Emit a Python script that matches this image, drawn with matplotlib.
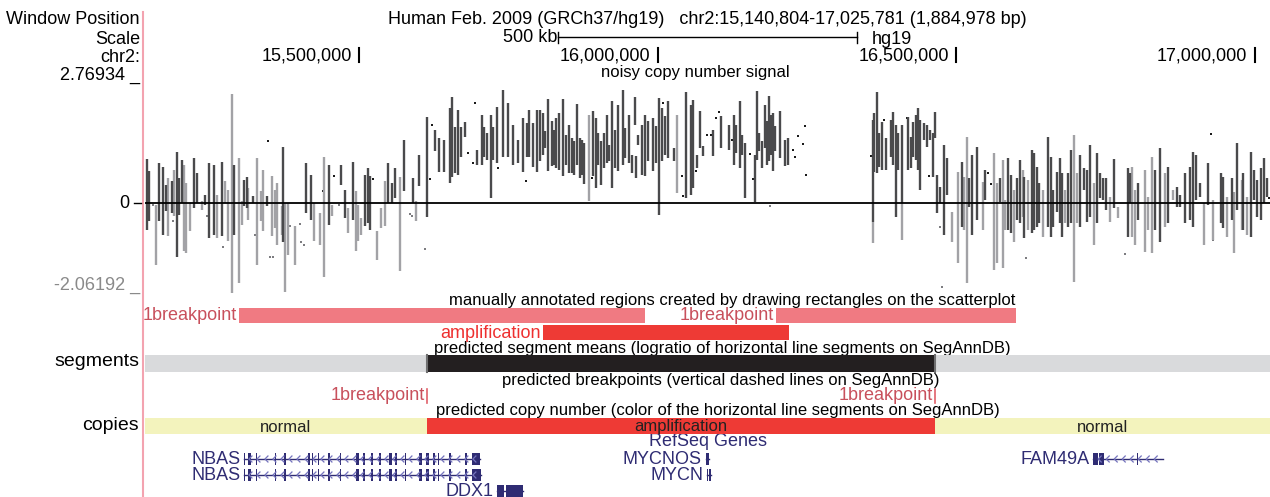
import numpy as np
import matplotlib
matplotlib.use("Agg")
import matplotlib.pyplot as plt
from matplotlib.patches import Rectangle

plt.rcParams['font.family'] = ['Liberation Sans', 'DejaVu Sans']

# 1. Okno genomu (Mb)
chrom = "chr2"
win_start = 15.140804
win_end = 17.025781
ruler_ticks = [15.5, 16.0, 16.5, 17.0]
sig_top = 2.76934
sig_bottom = -2.06192

# 2. Sygnal: przedzialy min-max w oknach (ciemne i jasne)
dark_mb = [15.144, 15.148, 15.164, 15.171, 15.176, 15.186, 15.194, 15.198, 15.203, 15.223,
           15.228, 15.241, 15.248, 15.256, 15.270, 15.290, 15.307, 15.312, 15.322, 15.345,
           15.372, 15.411, 15.419, 15.449, 15.469, 15.476, 15.489, 15.509, 15.515, 15.518,
           15.548, 15.555, 15.560, 15.575, 15.590, 15.600, 15.613, 15.627, 15.633, 15.642,
           15.652, 15.655, 15.660, 15.665, 15.670, 15.677, 15.697, 15.706, 15.709, 15.714,
           15.721, 15.724, 15.731, 15.741, 15.749, 15.757, 15.766, 15.774, 15.781, 15.784,
           15.791, 15.798, 15.803, 15.808, 15.811, 15.816, 15.823, 15.826, 15.829, 15.834,
           15.841, 15.846, 15.851, 15.856, 15.860, 15.865, 15.870, 15.873, 15.876, 15.892,
           15.897, 15.900, 15.905, 15.910, 15.915, 15.918, 15.923, 15.928, 15.933, 15.942,
           15.945, 15.952, 15.957, 15.962, 15.964, 15.967, 15.974, 15.979, 15.984, 15.992,
           15.997, 16.002, 16.007, 16.012, 16.017, 16.027, 16.047, 16.056, 16.059, 16.066,
           16.071, 16.076, 16.093, 16.106, 16.119, 16.128, 16.131, 16.138, 16.141, 16.146,
           16.163, 16.166, 16.170, 16.175, 16.180, 16.183, 16.186, 16.190, 16.193, 16.196,
           16.205, 16.213, 16.218, 16.361, 16.362, 16.367, 16.371, 16.376, 16.382, 16.391,
           16.394, 16.399, 16.402, 16.409, 16.419, 16.424, 16.428, 16.433, 16.436, 16.439,
           16.446, 16.451, 16.456, 16.461, 16.464, 16.468, 16.473, 16.480, 16.485, 16.510,
           16.521, 16.526, 16.535, 16.548, 16.573, 16.587, 16.592, 16.602, 16.607, 16.614,
           16.627, 16.630, 16.635, 16.639, 16.654, 16.659, 16.662, 16.669, 16.674, 16.677,
           16.687, 16.692, 16.707, 16.714, 16.719, 16.724, 16.736, 16.741, 16.746, 16.751,
           16.764, 16.788, 16.791, 16.805, 16.833, 16.841, 16.855, 16.870, 16.875, 16.883,
           16.892, 16.897, 16.902, 16.908, 16.922, 16.944, 16.947, 16.962, 16.971, 16.980,
           16.994, 16.999, 17.004, 17.011, 17.016, 17.021]
dark_hi = [1.01, 0.73, 0.92, 0.82, 0.41, 0.50, 1.17, 0.57, 0.98, 1.03,
           0.69, 0.18, 0.92, 0.87, 0.94, 0.87, 0.53, 0.59, 0.16, 0.16,
           1.28, 0.92, 0.64, 0.87, 0.87, 0.30, 0.94, 0.64, 0.80, 0.62,
           0.92, 0.46, 0.80, 1.44, 0.57, 1.10, 1.97, 1.67, 1.49, 1.44,
           2.17, 2.43, 1.74, 2.13, 1.74, 1.85, 1.21, 2.01, 1.74, 1.60,
           2.01, 1.74, 2.20, 2.59, 2.29, 1.78, 1.44, 1.94, 1.83, 2.13,
           1.83, 2.13, 2.13, 2.06, 1.65, 2.38, 1.88, 1.67, 1.94, 2.06,
           2.38, 1.56, 1.78, 1.49, 1.42, 2.27, 1.49, 1.44, 1.37, 2.10,
           1.94, 1.60, 1.42, 1.60, 2.01, 1.33, 2.33, 1.67, 2.24, 2.59,
           1.72, 2.01, 1.10, 2.43, 1.08, 1.56, 1.78, 2.01, 1.88, 1.94,
           1.76, 2.40, 2.17, 1.99, 2.33, 1.26, 2.54, 2.24, 2.36, 1.10,
           2.10, 1.30, 1.67, 1.99, 1.78, 2.01, 1.78, 2.33, 1.56, 1.37,
           1.10, 2.56, 1.60, 1.42, 2.24, 1.88, 2.45, 2.01, 2.06, 1.76,
           2.10, 1.44, 1.49, 1.90, 2.06, 2.54, 1.60, 1.85, 1.49, 1.90,
           2.08, 1.78, 1.60, 1.78, 1.97, 1.51, 1.85, 2.01, 2.17, 1.90,
           1.83, 1.78, 1.67, 1.60, 2.08, 0.64, 0.37, 1.33, 1.03, 0.94,
           0.57, 1.10, 1.28, 0.76, 0.57, 1.03, 0.64, 0.57, 0.98, 0.59,
           1.21, 1.14, 0.82, 0.46, 1.51, 1.05, 0.30, 0.71, 1.03, 0.69,
           0.69, 1.21, 1.10, 0.80, 0.76, 1.33, 1.14, 0.69, 0.57, 0.57,
           1.01, 0.80, 0.69, 0.46, 0.76, 1.26, 0.82, 0.37, 0.18, 0.69,
           0.82, 1.17, 1.10, 0.46, 0.92, 0.69, 0.59, 0.57, 1.37, 0.69,
           1.17, 0.76, 0.53, 0.80, 1.03, 0.57]
dark_lo = [-0.62, -0.41, -0.41, -0.73, -0.18, -0.23, -1.24, -0.27, 0.00, -0.11,
           0.00, -0.05, -0.80, -0.73, -0.76, -0.73, -0.07, -0.11, 0.00, -0.07,
           -0.89, -0.23, -0.39, -0.50, 0.41, -0.34, -0.39, -0.53, -0.46, -0.62,
           0.00, 0.00, 0.11, 0.27, 0.00, 0.39, -0.32, 1.19, 0.71, 0.71,
           0.46, 0.59, 0.69, 0.64, 1.05, 1.51, 0.87, 0.87, 1.05, 0.98,
           0.11, 0.98, 0.92, 1.05, 1.05, 0.87, 0.92, 0.71, 1.05, 1.05,
           0.82, 0.71, 0.96, 1.10, 1.26, 0.73, 0.85, 0.87, 0.80, 0.76,
           0.62, 0.87, 0.69, 0.69, 0.64, 0.87, 0.57, 0.64, 0.43, 0.62,
           0.34, 0.87, 0.41, 0.80, 0.92, 0.96, 0.34, 0.80, 0.73, 0.87,
           1.03, 0.92, 0.69, 1.78, 0.57, 1.33, 0.64, 0.62, 0.96, 0.73,
           0.92, -0.27, 0.96, 1.10, 1.03, 0.96, 0.11, 0.18, 0.34, 0.80,
           1.26, 1.08, 1.08, 1.26, 1.21, 0.87, 1.14, 0.80, 1.10, 0.11,
           0.02, 0.98, 1.19, 0.80, 1.26, 0.87, 0.96, 1.10, 0.73, 1.19,
           1.03, 0.85, 0.87, -0.43, 0.71, 0.69, 0.82, 0.76, 0.76, 1.05,
           0.87, -0.32, 0.76, 0.00, 0.76, 0.80, 1.05, 0.98, 0.76, 0.30,
           1.44, 1.28, 1.44, 0.59, 1.49, -0.23, 0.00, -0.73, 0.18, -0.55,
           -0.09, -0.73, -0.39, 0.07, 0.02, -0.62, -0.69, -0.39, -0.46, -0.80,
           -0.69, -0.62, -0.55, -0.46, -0.55, -0.78, -0.55, -0.21, -0.46, -0.78,
           -0.55, -0.46, -0.55, 0.30, -0.43, -0.32, -0.46, 0.11, 0.07, -0.16,
           -0.11, -0.78, 0.00, -0.39, -0.62, -0.89, -0.46, -0.09, -0.09, -0.46,
           -0.39, -0.55, 0.07, 0.14, -0.05, -0.46, -0.57, -0.39, -0.16, -0.62,
           -0.78, 0.07, -0.32, -0.39, 0.00, 0.14]

light_mb = [15.159, 15.179, 15.189, 15.206, 15.210, 15.216, 15.236, 15.262, 15.275, 15.280,
            15.287, 15.298, 15.303, 15.313, 15.328, 15.335, 15.339, 15.354, 15.359, 15.362,
            15.370, 15.375, 15.380, 15.392, 15.424, 15.434, 15.441, 15.454, 15.481, 15.494,
            15.498, 15.503, 15.530, 15.536, 15.543, 15.568, 15.595, 15.885, 16.032, 16.361,
            16.409, 16.493, 16.503, 16.513, 16.518, 16.545, 16.563, 16.568, 16.578, 16.582,
            16.597, 16.612, 16.620, 16.645, 16.682, 16.697, 16.702, 16.731, 16.758, 16.771,
            16.794, 16.800, 16.816, 16.821, 16.828, 16.850, 16.863, 16.915, 16.930, 16.954,
            16.965, 16.979, 16.987]
light_hi = [-0.05, 0.57, 0.76, 0.87, 0.46, 0.00, 0.05, 0.18, 0.50, 0.30,
            2.49, 1.03, 0.05, 0.34, 1.03, 0.27, 0.76, 0.62, 0.30, 0.46,
            -0.07, 0.00, 0.00, -0.53, 0.00, -0.23, 1.05, -0.05, -0.11, 0.27,
            -0.05, -0.34, -0.64, -0.11, 0.50, 0.59, 0.05, 2.01, 2.01, -0.43,
            0.00, -0.21, 0.71, 0.59, 1.51, 0.48, 1.14, 0.46, 0.98, 0.07,
            0.30, 0.76, 0.53, 0.30, 0.30, 1.56, 0.69, 0.46, 0.14, -0.09,
            0.82, 0.30, 0.76, 0.14, 1.05, 0.69, 0.30, 0.00, 0.07, 0.14,
            0.25, 0.53, 0.14]
light_lo = [-1.42, -0.76, -0.30, -1.10, -1.14, -0.64, -0.16, -0.80, 0.00, -0.87,
            -2.06, -1.83, -0.50, -0.39, -1.42, -0.41, -0.64, -0.76, -0.57, -0.96,
            -0.73, -2.04, -1.19, -1.42, -0.87, -0.96, -1.69, -0.30, -0.69, -1.10,
            -0.87, -0.73, -1.30, -0.57, -0.53, -1.56, -0.41, 0.05, 0.23, -0.92,
            -0.85, -0.89, -1.37, -0.62, -1.83, -0.62, -1.53, -1.37, -1.49, -0.62,
            -0.89, -0.32, -0.62, -0.78, -0.46, -1.81, -0.46, -0.96, -0.43, -0.34,
            -0.78, -0.96, -1.12, -0.62, -1.14, -0.55, 0.07, -0.96, -0.85, -0.78,
            -1.14, -0.62, -0.73]

# pojedyncze punkty
pt_dark_mb = [15.347, 15.439, 15.458, 15.523, 15.618, 15.622, 15.682, 15.690, 15.694, 15.732,
              15.779, 15.890, 16.009, 16.041, 16.042, 16.059, 16.064, 16.083, 16.089, 16.098,
              16.103, 16.124, 16.155, 16.160, 16.227, 16.230, 16.235, 16.243, 16.247, 16.248,
              16.357, 16.379, 16.418, 16.454, 16.553, 16.558, 16.927, 17.024]
pt_dark_val = [1.42, 0.27, 0.62, 0.55, 0.55, 1.78, 1.14, 0.92, 2.29, 0.80,
               0.50, 0.57, 2.29, 0.62, 0.16, 0.89, 0.73, 1.56, 1.56, 1.94,
               2.08, 1.44, 1.12, 0.55, 1.21, 1.05, 1.53, 1.35, 1.76, 0.64,
               1.08, 1.90, 1.94, 0.62, 0.69, 0.43, 1.58, 0.11]
pt_light_mb = [15.154, 15.188, 15.245, 15.272, 15.325, 15.350, 15.355, 15.384, 15.401, 15.402,
               15.407, 15.466, 15.585, 15.588, 15.610, 16.188, 16.473, 16.476, 16.617, 16.783,
               16.930]
pt_light_val = [-0.05, -0.41, -0.30, -1.01, -0.73, -1.24, -1.24, -0.53, -0.48, -0.89,
                -0.96, -0.05, -0.25, -0.30, -1.05, -0.07, -0.55, -1.92, -1.26, -1.17,
                -0.85]

# 3. Regiony zaznaczone recznie
region_start = [15.2983, 16.1981, 15.8077]
region_end = [15.9786, 16.6002, 16.2199]
region_label = ["1breakpoint", "1breakpoint", "amplification"]

# 4. Segmenty, punkty zmiany, liczba kopii
seg_start = [win_start, 15.6134, 16.4645]
seg_end = [15.6134, 16.4645, win_end]
seg_mean = [0.05, 1.45, 0.10]
breakpoints = [15.6134, 16.4645]
copy_status = ["normal", "amplification", "normal"]

# 5. Geny RefSeq
gene_name = ["NBAS", "NBAS", "MYCNOS", "MYCN", "DDX1", "FAM49A"]
gene_start = [15.307, 15.307, 16.080, 16.082, 15.731, 16.730]
gene_end = [15.702, 15.704, 16.085, 16.089, 15.774, 16.847]
gene_strand = ["-", "-", "-", "+", "+", "-"]
gene_row = [0, 1, 0, 1, 2, 0]
nbas_exons = [(15.307, 15.309), (15.313, 15.318), (15.326, 15.329), (15.359, 15.361),
              (15.373, 15.377), (15.414, 15.417), (15.421, 15.423), (15.431, 15.433),
              (15.448, 15.450), (15.468, 15.470), (15.494, 15.499), (15.506, 15.510),
              (15.519, 15.523), (15.533, 15.536), (15.550, 15.554), (15.559, 15.563),
              (15.576, 15.578), (15.600, 15.605), (15.611, 15.616), (15.623, 15.627),
              (15.631, 15.633), (15.651, 15.654), (15.677, 15.681), (15.689, 15.702)]
gene_exons = [nbas_exons,
              nbas_exons[:-1] + [(15.689, 15.704)],
              [(16.080, 16.085)],
              [(16.082, 16.084), (16.086, 16.089)],
              [(15.731, 15.742), (15.745, 15.774)],
              [(16.730, 16.737), (16.740, 16.748), (16.769, 16.770), (16.803, 16.804),
               (16.846, 16.847)]]

# kolory
DARK = '#4a4a4c'
LIGHT = '#a2a2a6'
PINK = '#f07a82'
RED = '#ee3a35'
BKRED = '#c8505c'
NAVY = '#2f2c73'
YELLOW = '#f3f3bd'
FS = 13      # wiekszosc napisow
FS_TRK = 12  # tytuly torow
FS_SIDE = 14

fig = plt.figure(figsize=(12.7, 4.97), dpi=100)

# osie: etykiety (piksele), tory (Mb x piksele), sygnal (Mb x logratio)
lab = fig.add_axes([0, 0, 1, 1])
lab.set_xlim(0, 1270)
lab.set_ylim(497, 0)
lab.axis('off')

trk = fig.add_axes([145 / 1270, 0, 1125 / 1270, 1])
trk.set_xlim(win_start, win_end)
trk.set_ylim(497, 0)
trk.axis('off')

sig = fig.add_axes([145 / 1270, 1 - 293 / 497, 1125 / 1270, 211 / 497])
sig.set_xlim(win_start, win_end)
sig.set_ylim(sig_bottom, sig_top)
sig.axis('off')

# lewa kolumna
lab.plot([142.5, 142.5], [12, 497], color='#f3a3b0', lw=1.5)
for txt, y in [("Window Position", 20), ("Scale", 40), (chrom + ":", 57), ("2.76934 _", 75)]:
    lab.text(140, y, txt, ha='right', va='center', fontsize=FS)
lab.text(139, 362, "segments", ha='right', va='center', fontsize=FS_SIDE)
lab.text(139, 426, "copies", ha='right', va='center', fontsize=FS_SIDE)
lab.text(129, 204, "0", ha='right', va='center', fontsize=FS)
lab.plot([134, 141], [203, 203], color='black', lw=1)
lab.text(140, 285, "-2.06192 _", ha='right', va='center', fontsize=FS, color='#8a8a8a')

# naglowek
s_bp = int(round(win_start * 1e6))
e_bp = int(round(win_end * 1e6))
title = "Human Feb. 2009 (GRCh37/hg19)   %s:%s-%s (%s bp)" % (
    chrom, format(s_bp, ','), format(e_bp, ','), format(e_bp - s_bp + 1, ','))
lab.text(707, 19, title, ha='center', va='center', fontsize=FS)

# linijka skali 500 kb
mid = (win_start + win_end) / 2
s0, s1 = mid - 0.25, mid + 0.25
trk.plot([s0, s1], [37, 37], color='black', lw=1)
trk.plot([s0, s0], [32, 43], color='black', lw=1)
trk.plot([s1, s1], [32, 43], color='black', lw=1)
trk.text(s0 - 0.002, 37, "500 kb", ha='right', va='center', fontsize=FS)
trk.text(s1 + 0.025, 40, "hg19", ha='left', va='center', fontsize=FS)

for t in ruler_ticks:
    trk.plot([t, t], [48, 62], color='black', lw=1.5)
    trk.text(t - 0.012, 56, format(int(t * 1e6), ','), ha='right', va='center', fontsize=FS)

# sygnal
lab.text(695, 73, "noisy copy number signal", ha='center', va='center', fontsize=FS_TRK)
sig.vlines(light_mb, light_lo, light_hi, colors=LIGHT, lw=1.7)
sig.vlines(dark_mb, dark_lo, dark_hi, colors=DARK, lw=1.7)
sig.scatter(pt_light_mb, pt_light_val, s=3, marker='s', color='#7c7c80', linewidths=0)
sig.scatter(pt_dark_mb, pt_dark_val, s=3, marker='s', color='#1a1a1a', linewidths=0)
sig.axhline(0, color='black', lw=1.3)

# regiony reczne
lab.text(732, 300, "manually annotated regions created by drawing rectangles on the scatterplot",
         ha='center', va='center', fontsize=FS_TRK)
for a, b, name in zip(region_start, region_end, region_label):
    if name == "amplification":
        y0, col, tcol = 325, RED, '#ee3030'
    else:
        y0, col, tcol = 308, PINK, BKRED
    trk.add_patch(Rectangle((a, y0), b - a, 15, color=col, lw=0))
    trk.text(a - 0.004, y0 + 8, name, ha='right', va='center', fontsize=FS, color=tcol)

# segmenty
lab.text(722, 348, "predicted segment means (logratio of horizontal line segments on SegAnnDB)",
         ha='center', va='center', fontsize=FS_TRK)
for a, b, m in zip(seg_start, seg_end, seg_mean):
    col = '#231f20' if m > 0.5 else '#d9dadc'
    trk.add_patch(Rectangle((a, 355), b - a, 17, color=col, lw=0))
for p in breakpoints:
    trk.plot([p, p], [355, 372], color='#6f6f70', lw=1.5)

# punkty zmiany
lab.text(721, 381, "predicted breakpoints (vertical dashed lines on SegAnnDB)",
         ha='center', va='center', fontsize=FS_TRK)
for p in breakpoints:
    trk.plot([p, p], [389, 403], color='#e0606a', lw=1.2)
    trk.text(p - 0.004, 396, "1breakpoint", ha='right', va='center', fontsize=FS, color=BKRED)

# liczba kopii
lab.text(718, 410, "predicted copy number (color of the horizontal line segments on SegAnnDB)",
         ha='center', va='center', fontsize=FS_TRK)
for a, b, st in zip(seg_start, seg_end, copy_status):
    col = RED if st == "amplification" else YELLOW
    trk.add_patch(Rectangle((a, 418), b - a, 16, color=col, lw=0))
    trk.text((a + b) / 2, 427, st, ha='center', va='center', fontsize=FS_TRK, color='#222222')

# geny
lab.text(708, 442, "RefSeq Genes", ha='center', va='center', fontsize=FS, color=NAVY)
row_y = [459, 475, 491]
for name, a, b, strand, row, exons in zip(gene_name, gene_start, gene_end, gene_strand,
                                          gene_row, gene_exons):
    y = row_y[row]
    trk.plot([a, b], [y, y], color=NAVY, lw=1)
    if b - a > 0.05:
        d = 0.005
        for c in np.arange(a + 0.008, b - 0.006, 0.0134):
            if strand == "-":
                trk.plot([c + d, c, c + d], [y - 3, y, y + 3], color='#7473bd', lw=0.9)
            else:
                trk.plot([c - d, c, c - d], [y - 3, y, y + 3], color='#7473bd', lw=0.9)
    for ea, eb in exons:
        trk.add_patch(Rectangle((ea, y - 6), eb - ea, 12, color=NAVY, lw=0))
    trk.text(a - 0.006, y, name, ha='right', va='center', fontsize=FS, color=NAVY)

fig.savefig("out.png", dpi=100)
